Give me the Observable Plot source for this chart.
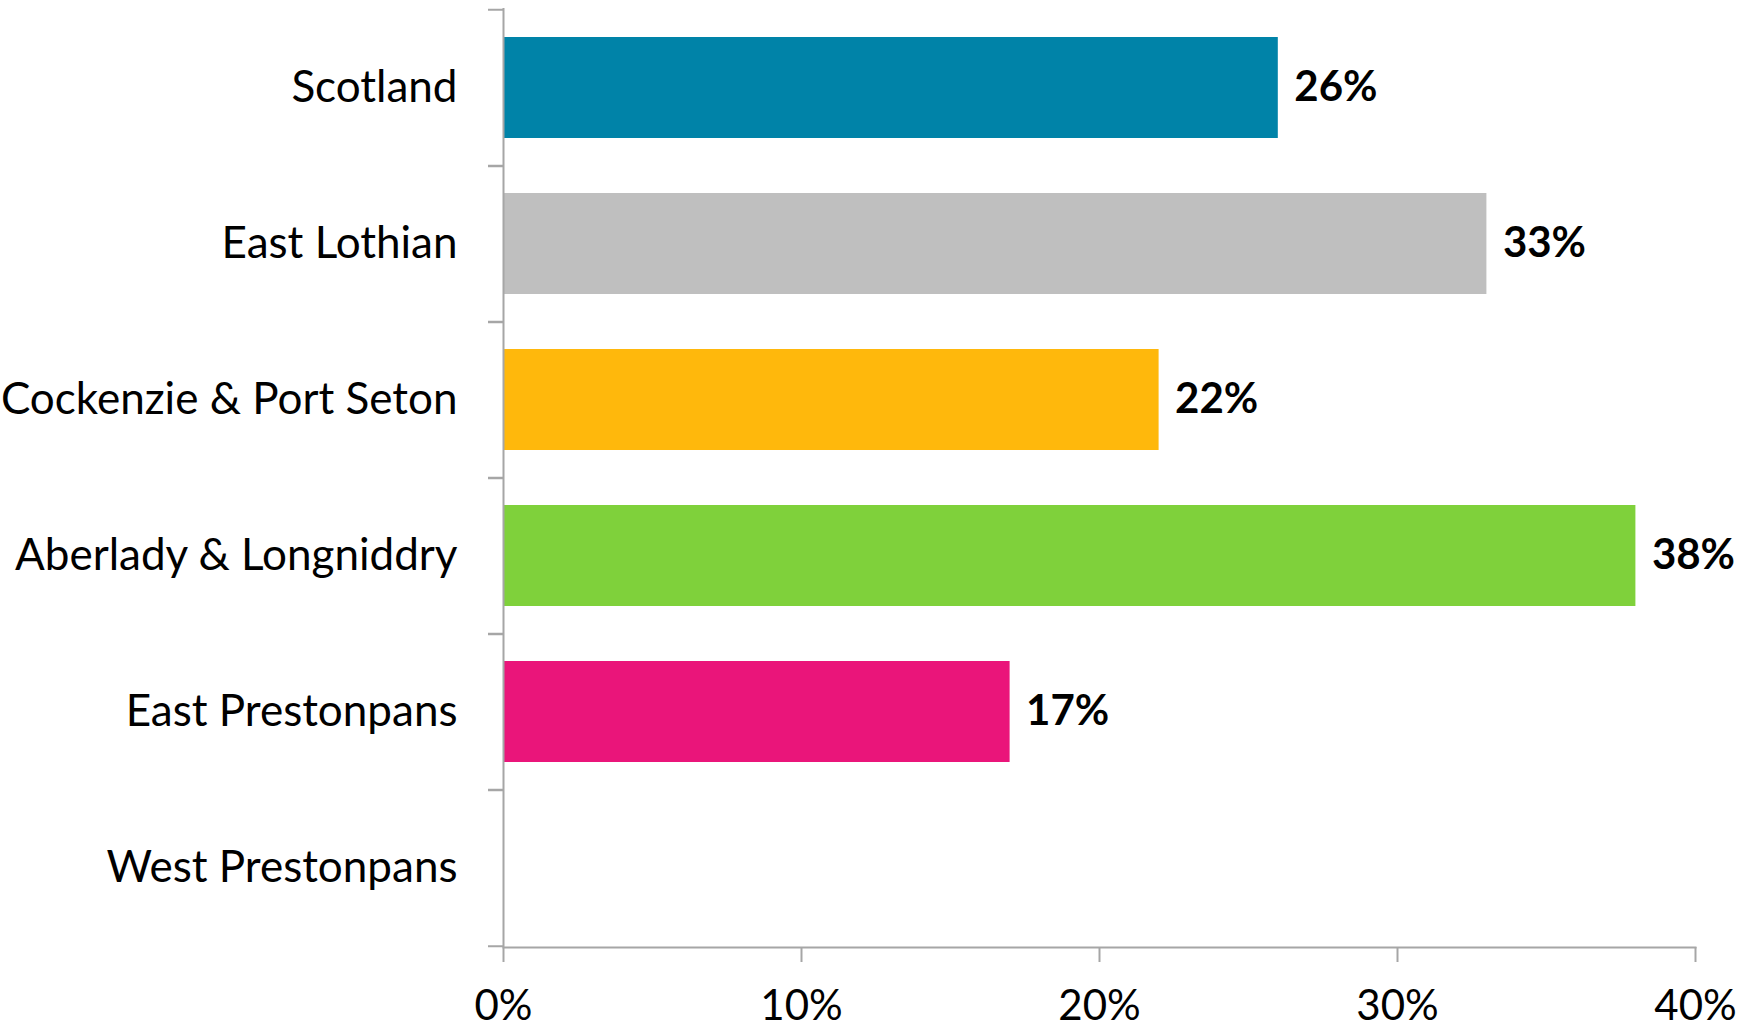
<!DOCTYPE html>
<html><head><meta charset="utf-8">
<script src="https://cdn.jsdelivr.net/npm/d3@7"></script>
<script src="https://cdn.jsdelivr.net/npm/@observablehq/plot@0.6"></script>
<style>body{margin:0;background:#fff}</style>
</head><body><div id="chart"></div>
<script>
const categories = ["Scotland", "East Lothian", "Cockenzie & Port Seton", "Aberlady & Longniddry", "East Prestonpans", "West Prestonpans"];
const values = [26, 33, 22, 38, 17, null];
const xTicks = [0, 10, 20, 30, 40];
const palette = ["#0083A8", "#BFBFBF", "#FFB80C", "#7FD13B", "#EA157A", "#A5A5A5"];

const data = categories.map((c, i) => ({category: c, value: values[i]}));
const shown = data.filter(d => d.value != null);
const W = 1739, H = 1030, mT = 8, mB = 83, mL = 503, mR = 44;
const step = (H - mT - mB) / categories.length;
const axisColor = "#A6A6A6";
const font = "Lato, 'Open Sans', sans-serif";
const fs = 42;
const fsCat = 44;
const pct = d => d + "%";

const chart = Plot.plot({
  width: W, height: H,
  marginTop: mT, marginBottom: mB, marginLeft: mL, marginRight: mR,
  style: {fontFamily: font, fontSize: fs + "px", color: "#000", background: "#fff"},
  x: {domain: [0, 40], ticks: xTicks},
  y: {domain: categories, paddingInner: 0.35, paddingOuter: 0.175},
  color: {domain: categories, range: palette},
  marks: [
    Plot.barX(shown, {x: "value", y: "category", fill: "category"}),
    Plot.text(shown, {x: "value", y: "category", text: d => pct(d.value), textAnchor: "start", dx: 16, fontWeight: "bold", fontSize: fs, fill: "#000"}),
    Plot.axisY({tickSize: 0, tickPadding: 46, label: null, fontSize: fsCat, fill: "#000"}),
    Plot.axisY({tickSize: 15, tickFormat: () => "", label: null, dy: -step / 2, stroke: axisColor, strokeWidth: 2}),
    Plot.axisY({tickSize: 15, tickFormat: () => "", label: null, dy: step / 2, stroke: axisColor, strokeWidth: 2}),
    Plot.axisX({ticks: xTicks, tickSize: 15, tickPadding: 28, tickFormat: pct, label: null, stroke: axisColor, strokeWidth: 2, fill: "#000", fontSize: fs}),
    Plot.ruleX([0], {stroke: axisColor, strokeWidth: 2}),
    Plot.frame({anchor: "bottom", stroke: axisColor, strokeWidth: 2})
  ]
});
document.getElementById("chart").append(chart);
</script>
</body></html>
